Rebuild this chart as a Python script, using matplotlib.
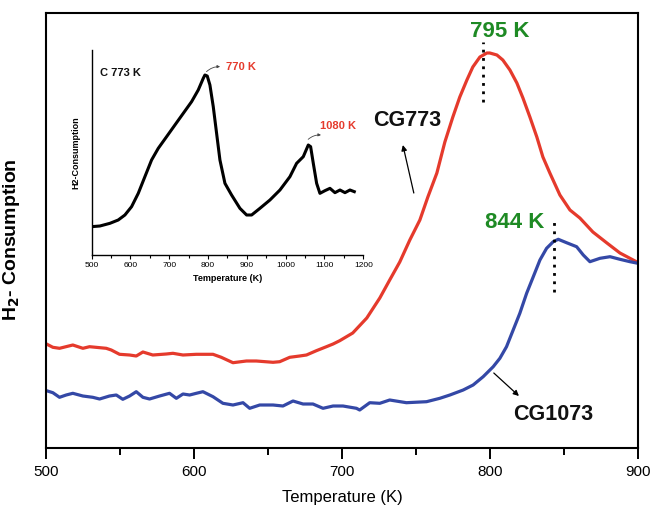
import matplotlib
matplotlib.use("Agg")
import matplotlib.pyplot as plt

plt.rcParams['font.family'] = ['Liberation Sans', 'DejaVu Sans']

# Main chart: CG773 (red)
cg773_T = [500.0, 504.3, 508.8, 517.8, 524.6, 529.1, 540.4, 543.8, 549.4, 556.2,
           560.7, 565.2, 571.9, 581.0, 585.5, 592.3, 601.3, 612.6, 618.2, 626.1,
           635.2, 641.9, 653.2, 657.7, 664.5, 671.2, 675.8, 682.5, 689.3, 693.8,
           698.3, 707.1, 716.6, 725.4, 732.1, 738.9, 745.7, 752.5, 757.9, 764.0,
           769.4, 774.8, 779.5, 784.3, 788.3, 793.1, 797.8, 799.8, 804.6, 808.6,
           813.4, 818.1, 822.2, 826.9, 831.6, 835.7, 840.4, 847.2, 854.0, 860.7,
           869.5, 879.0, 887.8, 899.3]
cg773_v = [104, 100.7, 99.7, 103, 99.7, 101.3, 99.7, 98, 93.7, 93,
           92, 96, 93, 94, 94.7, 93, 93.7, 93.7, 90.7, 85.3,
           87, 87, 85.7, 86.3, 90.7, 92, 93, 97.3, 101.3, 104,
           107.3, 115, 130, 150, 168, 186, 208, 228, 251, 275,
           306, 331, 351, 368, 381, 391, 395, 395, 393, 388,
           378, 365, 350, 331, 311, 291, 275, 253, 238, 230,
           216, 205, 195, 186]

# Main chart: CG1073 (blue)
cg1073_T = [500.0, 504.3, 508.8, 513.3, 517.8, 524.6, 531.3, 535.9, 542.6, 547.2,
            551.6, 556.2, 560.7, 565.2, 569.7, 576.5, 583.2, 587.8, 592.3, 596.8,
            601.3, 605.8, 612.6, 619.3, 626.1, 632.9, 637.4, 644.2, 653.2, 659.9,
            666.7, 673.5, 680.2, 687.0, 693.8, 700.5, 709.6, 711.8, 718.6, 725.4,
            732.1, 743.4, 757.0, 766.0, 772.8, 781.8, 788.5, 795.3, 802.1, 806.6,
            811.1, 815.6, 820.1, 824.7, 829.2, 833.7, 838.2, 842.7, 846.1, 851.7,
            858.5, 863.0, 867.5, 874.3, 881.1, 887.8, 894.6, 900.0]
cg1073_v = [57.3, 55.3, 50.7, 53, 54.7, 52, 50.7, 49, 52, 53,
            48.7, 52, 56.3, 50.7, 49, 52, 54.7, 49.7, 54, 53,
            54.7, 56.3, 51.3, 44.7, 43, 45.3, 39.7, 43, 43, 42,
            47, 44, 44, 39.7, 42, 42, 39.7, 38, 45.3, 44.7,
            48, 45.3, 46.3, 49.7, 53, 58, 63, 71.3, 81.3, 89.7,
            101.3, 118, 134.7, 154.7, 171.3, 188, 199.7, 206.3, 208.7, 205.3,
            201.3, 193, 186.3, 189.7, 191.3, 188.7, 186.3, 184.7]

# Inset: C 773 K
c773_T = [500, 521.5, 547.2, 568.7, 585.9, 603.1, 620.3, 637.4, 654.6, 671.8,
          693.3, 714.7, 736.2, 757.7, 774.8, 787.7, 792.0, 798.0, 804.9, 813.5,
          822.1, 830.7, 843.6, 860.7, 882.2, 899.4, 912.3, 933.7, 959.5, 985.3,
          1011.0, 1028.2, 1045.4, 1058.3, 1064.3, 1071.2, 1079.8, 1088.3, 1101.2,
          1114.1, 1127.0, 1139.9, 1152.8, 1165.6, 1176.8]
c773_v = [85, 87, 95, 105, 120, 145, 185, 235, 285, 320,
          355, 390, 425, 460, 495, 530, 540, 537, 510, 445,
          365, 285, 215, 180, 140, 120, 120, 140, 165, 195,
          235, 275, 295, 330, 325, 275, 215, 185, 193,
          200, 187, 195, 187, 195, 190]

main_xticks = [500, 600, 700, 800, 900]
inset_xticks = [500, 600, 700, 800, 900, 1000, 1100, 1200]

RED = '#e53a2c'
BLUE = '#3448a6'
GREEN = '#1e8a24'

fig = plt.figure(figsize=(6.54, 5.14), dpi=100)
ax = fig.add_axes([0.0711, 0.1284, 0.9044, 0.8463])
ax.plot(cg773_T, cg773_v, color=RED, lw=2.3, solid_joinstyle='round')
ax.plot(cg1073_T, cg1073_v, color=BLUE, lw=2.3, solid_joinstyle='round')
ax.set_xlim(500, 900)
ax.set_ylim(0, 435)
ax.set_yticks([])
ax.set_xticks(main_xticks)
ax.set_xticks([550, 650, 750, 850], minor=True)
ax.tick_params(axis='x', which='major', direction='out', length=8, width=1.4,
               labelsize=11, pad=4)
ax.tick_params(axis='x', which='minor', direction='out', length=5, width=1.4)
for s in ax.spines.values():
    s.set_linewidth(1.5)
ax.set_xlabel('Temperature (K)', fontsize=12, labelpad=8)
ax.set_ylabel(r'H$_\mathbf{2}$- Consumption', fontsize=14, fontweight='bold')
ax.yaxis.set_label_coords(-0.042, 0.48)

# dotted peak markers
ax.plot([795, 795], [346, 406], color='black', lw=2, ls=(0, (1, 2)))
ax.plot([843, 843], [156, 230], color='black', lw=2, ls=(0, (1, 2)))

ax.text(806.6, 417, '795 K', color=GREEN, fontsize=16, fontweight='bold',
        ha='center', va='center')
ax.text(816.5, 226, '844 K', color=GREEN, fontsize=16, fontweight='bold',
        ha='center', va='center')
ax.text(743.7, 328, 'CG773', color='#111111', fontsize=15.5, fontweight='bold',
        ha='center', va='center')
ax.text(842.5, 34, 'CG1073', color='#111111', fontsize=15.5, fontweight='bold',
        ha='center', va='center')
ax.annotate('', xy=(741.0, 303), xytext=(748.4, 255),
            arrowprops=dict(arrowstyle='-|>', color='black', lw=0.9,
                            mutation_scale=8, shrinkA=0, shrinkB=0))
ax.annotate('', xy=(819.5, 52), xytext=(802.5, 75),
            arrowprops=dict(arrowstyle='-|>', color='black', lw=0.9,
                            mutation_scale=8, shrinkA=0, shrinkB=0))

# inset
ins = fig.add_axes([0.140, 0.5039, 0.4155, 0.3988])
ins.plot(c773_T, c773_v, color='black', lw=2.2, solid_joinstyle='round')
ins.set_xlim(500, 1200)
ins.set_ylim(0, 615)
ins.set_yticks([])
ins.set_xticks(inset_xticks)
ins.set_xticks([550, 650, 750, 850, 950, 1050, 1150], minor=True)
ins.spines['top'].set_visible(False)
ins.spines['right'].set_visible(False)
ins.spines['left'].set_linewidth(1.0)
ins.spines['bottom'].set_linewidth(1.0)
ins.tick_params(axis='x', which='major', direction='out', length=3, width=0.8,
                labelsize=6, pad=2)
ins.tick_params(axis='x', which='minor', direction='out', length=2, width=0.8)
ins.set_xlabel('Temperature (K)', fontsize=6.5, fontweight='bold', labelpad=4)
ins.set_ylabel('H2-Consumption', fontsize=6.5, fontweight='bold', labelpad=8)
ins.patch.set_alpha(0)

ins.text(523, 547, 'C 773 K', fontsize=8, fontweight='bold', color='#111111',
         ha='left', va='center')
ins.text(846, 565, '770 K', fontsize=8, fontweight='bold', color=RED,
         ha='left', va='center')
ins.text(1088, 387, '1080 K', fontsize=8, fontweight='bold', color=RED,
         ha='left', va='center')
ins.annotate('', xy=(831, 565), xytext=(796, 550),
             arrowprops=dict(arrowstyle='-|>', color='#444444', lw=0.6,
                             mutation_scale=4, shrinkA=0, shrinkB=0,
                             connectionstyle='arc3,rad=-0.2'))
ins.annotate('', xy=(1091, 360), xytext=(1058, 347),
             arrowprops=dict(arrowstyle='-|>', color='#444444', lw=0.6,
                             mutation_scale=4, shrinkA=0, shrinkB=0,
                             connectionstyle='arc3,rad=-0.2'))

fig.savefig('out.png', dpi=100)
